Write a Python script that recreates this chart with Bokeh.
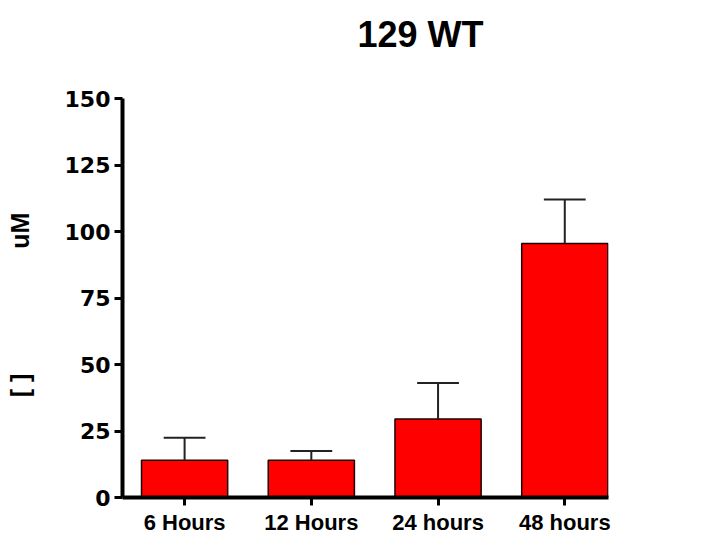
from bokeh.plotting import figure
from bokeh.models import FixedTicker, Range1d, ColumnDataSource, LinearAxis
from bokeh.embed import file_html
from bokeh.resources import INLINE

title_text = "129 WT"
categories = ["6 Hours", "12 Hours", "24 hours", "48 hours"]
means = [14.0, 14.0, 29.5, 95.5]
sem = [8.5, 3.5, 13.5, 16.5]
y_ticks = [0, 25, 50, 75, 100, 125, 150]

xs = list(range(len(categories)))
tops = [m + s for m, s in zip(means, sem)]
src = ColumnDataSource(dict(x=xs, top=means, etop=tops,
                            cl=[x - 0.165 for x in xs], cr=[x + 0.165 for x in xs]))

p = figure(width=690, height=537, output_backend="svg", toolbar_location=None,
           x_range=Range1d(-0.49, 3.345), y_range=Range1d(0, 150),
           min_border_left=122, min_border_right=82, min_border_top=98, min_border_bottom=39)
p.title.visible = False
p.outline_line_color = None
p.xgrid.visible = False
p.ygrid.visible = False

p.vbar(x="x", top="top", bottom=0, width=0.68, source=src,
       fill_color="#ff0000", line_color="#1a0000", line_width=1.5)
p.segment(x0="x", y0="top", x1="x", y1="etop", source=src, line_color="#222222", line_width=2)
p.segment(x0="cl", y0="etop", x1="cr", y1="etop", source=src, line_color="#222222", line_width=2)

FONT = "Liberation Sans"

xaxis = p.below[0]
yaxis = p.left[0]
for ax in (xaxis, yaxis):
    ax.axis_line_width = 4
    ax.axis_line_color = "black"
    ax.major_tick_line_width = 3
    ax.major_tick_out = 8
    ax.major_tick_in = 0
    ax.minor_tick_line_color = None
    ax.major_label_text_font = FONT
    ax.major_label_text_font_style = "bold"
    ax.major_label_text_color = "black"

yaxis.ticker = FixedTicker(ticks=y_ticks)
yaxis.major_label_text_font = "DejaVu Sans"
yaxis.major_label_text_font_size = "22px"
yaxis.major_label_standoff = 4
yaxis.axis_label = "[\u00a0]" + "\u00a0" * 18 + "uM\u00a0\u00a0"
yaxis.axis_label_text_font = FONT
yaxis.axis_label_text_font_size = "25px"
yaxis.axis_label_text_font_style = "bold"
yaxis.axis_label_text_color = "black"
yaxis.axis_label_standoff = 28

xaxis.ticker = FixedTicker(ticks=xs)
xaxis.major_label_overrides = {i: c for i, c in enumerate(categories)}
xaxis.major_label_text_font_size = "22px"
xaxis.major_label_standoff = 4

# title drawn as the label of an empty axis above the frame
top_axis = LinearAxis(ticker=FixedTicker(ticks=[]), axis_line_color=None,
                      major_tick_line_color=None, minor_tick_line_color=None,
                      axis_label="\u00a0" * 11 + title_text,
                      axis_label_text_font=FONT, axis_label_text_font_size="36px",
                      axis_label_text_font_style="bold", axis_label_text_color="black",
                      axis_label_standoff=44)
p.add_layout(top_axis, "above")

open("out.html", "w").write(file_html(p, INLINE))
